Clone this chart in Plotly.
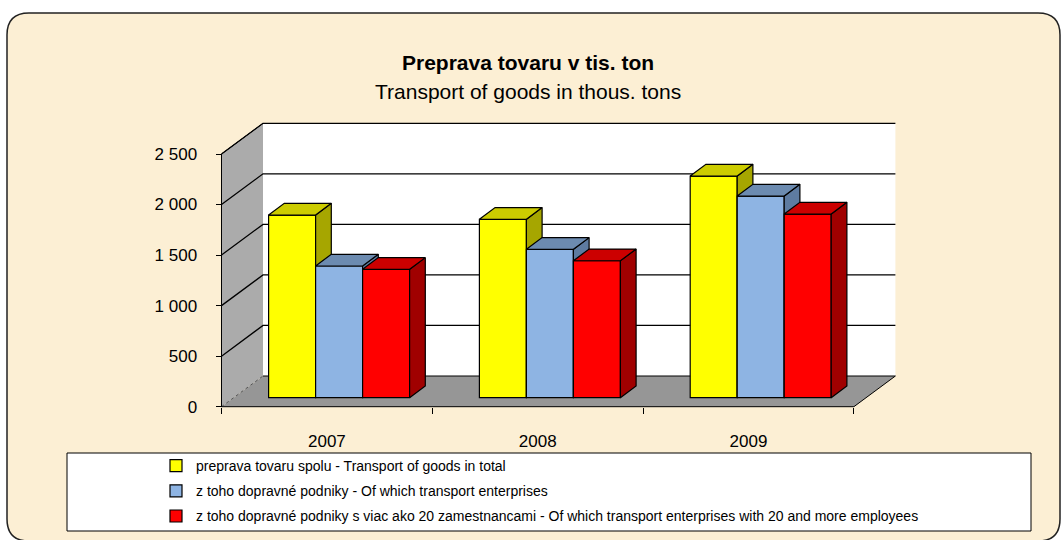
import plotly.graph_objects as go

# ---------------- data ----------------
years = ["2007", "2008", "2009"]
series_names = [
    "preprava tovaru spolu - Transport of goods in total",
    "z toho dopravné podniky - Of which transport enterprises",
    "z toho dopravné podniky s viac ako 20 zamestnancami - Of which transport enterprises with 20 and more employees",
]
total_goods = [1807, 1765, 2193]
transport_enterprises = [1303, 1468, 1995]
enterprises_20_plus = [1270, 1355, 1817]
y_tickvals = [0, 500, 1000, 1500, 2000, 2500]
y_ticktext = ["0", "500", "1 000", "1 500", "2 000", "2 500"]

series_values = [total_goods, transport_enterprises, enterprises_20_plus]
front_colors = ["#FFFF00", "#8EB4E3", "#FF0000"]
top_colors = ["#CCCC00", "#6C8BB0", "#CC0000"]
side_colors = ["#A6A600", "#5E7BA0", "#A00000"]

# ---------------- geometry (pixels) ----------------
W, H = 1061, 540
FX0, FY0 = 221.5, 406.7        # front-left corner of floor
SLOT = 210.8                    # px per category on front plane
VPX = 252.7 / 2500              # px per value unit
WALL_DX, WALL_DY = 41.5, 30.7   # depth of the floor / walls
BAR_DX, BAR_DY = 12.2, 9.0      # shift of bar front plane
BD_X, BD_Y = 15.7, 11.7         # depth of each bar
GROUP_FRAC = 141.0 / SLOT       # group width as fraction of slot
XL, XR = 195, 925               # axes domain (px)
YB, YT = 425, 100

FONT = "Liberation Sans, Arial, sans-serif"


def px_x(p):
    return p / W


def px_y(p):
    return 1 - p / H


x_range_base = [(XL - FX0) / SLOT - 0.5, (XR - FX0) / SLOT - 0.5]
y_range_base = [(FY0 - YB) / VPX, (FY0 - YT) / VPX]
x_range_bar = [(XL - FX0 - BAR_DX) / SLOT - 0.5, (XR - FX0 - BAR_DX) / SLOT - 0.5]
y_range_bar = [(FY0 - BAR_DY - YB) / VPX, (FY0 - BAR_DY - YT) / VPX]

wdu = WALL_DX / SLOT
wdv = WALL_DY / VPX
bdu = BD_X / SLOT
bdv = BD_Y / VPX
u0, u1 = -0.5, len(years) - 0.5
vtop = y_tickvals[-1]

fig = go.Figure()


def poly(xs, ys, fill, lcol="black", lw=1, xa="x", ya="y", dash="solid"):
    fig.add_trace(go.Scatter(
        x=xs, y=ys, mode="lines", fill="toself" if fill else None,
        fillcolor=fill, line=dict(color=lcol, width=lw, dash=dash),
        xaxis=xa, yaxis=ya, hoverinfo="skip", showlegend=False))


# left wall
poly([u0, u0 + wdu, u0 + wdu, u0, u0], [0, wdv, vtop + wdv, vtop, 0], "#ABABAB", "rgba(0,0,0,0)", 0)
# back wall
poly([u0 + wdu, u1 + wdu, u1 + wdu, u0 + wdu, u0 + wdu], [wdv, wdv, vtop + wdv, vtop + wdv, wdv], "#FFFFFF", "rgba(0,0,0,0)", 0)
# floor
poly([u0, u0 + wdu, u1 + wdu, u1, u0], [0, wdv, wdv, 0, 0], "#969696", "rgba(0,0,0,0)", 0)

# gridlines across left wall and back wall
gx, gy = [], []
for t in y_tickvals[1:]:
    gx += [u0, u0 + wdu, u1 + wdu, None]
    gy += [t, t + wdv, t + wdv, None]
poly(gx, gy, None, "#000000", 1.3)
# floor back edge
poly([u0 + wdu, u1 + wdu], [wdv, wdv], None, "#000000", 1)
# floor left edge (dashed)
poly([u0, u0 + wdu], [0, wdv], None, "#555555", 1, dash="dot")
# front edges
poly([u0, u0, u0 + wdu], [0, vtop, vtop + wdv], None, "#000000", 1)
poly([u0, u1, u1 + wdu], [0, 0, wdv], None, "#000000", 1)

# ---------------- bars ----------------
n = len(series_values)
bw = GROUP_FRAC / n
for i, (vals, name) in enumerate(zip(series_values, series_names)):
    xa = "x%d" % (i + 2)
    ya = "y%d" % (i + 2)
    off = -GROUP_FRAC / 2 + i * bw
    fig.add_trace(go.Bar(
        x=list(range(len(years))), y=vals, width=bw, offset=off,
        marker=dict(color=front_colors[i], line=dict(color="black", width=1.2)),
        name=name, legendgroup="g%d" % i, xaxis=xa, yaxis=ya,
        hovertemplate="%{y}<extra></extra>"))
    sx, sy, tx, ty = [], [], [], []
    for k, v in enumerate(vals):
        xl = k + off
        xr = xl + bw
        sx += [xr, xr + bdu, xr + bdu, xr, xr, None]
        sy += [0, bdv, v + bdv, v, 0, None]
        tx += [xl, xl + bdu, xr + bdu, xr, xl, None]
        ty += [v, v + bdv, v + bdv, v, v, None]
    poly(sx, sy, side_colors[i], "black", 1.2, xa, ya)
    poly(tx, ty, top_colors[i], "black", 1.2, xa, ya)

# ---------------- layout ----------------
dom_x = [px_x(XL), px_x(XR)]
dom_y = [px_y(YB), px_y(YT)]
hidden = dict(showgrid=False, zeroline=False, showline=False, showticklabels=False,
              ticks="", fixedrange=True, visible=False)

layout = dict(
    width=W, height=H,
    margin=dict(l=0, r=0, t=0, b=0),
    paper_bgcolor="white",
    plot_bgcolor="rgba(0,0,0,0)",
    font=dict(family=FONT, color="black"),
    barmode="overlay",
    showlegend=True,
    xaxis=dict(domain=dom_x, range=x_range_base, tickmode="array",
               tickvals=list(range(len(years))), ticktext=years, ticks="",
               showgrid=False, zeroline=False, showline=False,
               anchor="free", position=px_y(FY0), ticklabelstandoff=22,
               tickfont=dict(size=17, family=FONT),
               minor=dict(tickmode="array",
                          tickvals=[k - 0.5 for k in range(len(years) + 1)],
                          ticks="outside", ticklen=6, tickcolor="black", tickwidth=1,
                          showgrid=False),
               fixedrange=True),
    yaxis=dict(domain=dom_y, range=y_range_base, tickmode="array",
               tickvals=y_tickvals, ticktext=y_ticktext, ticks="outside",
               ticklen=6, tickcolor="black", showgrid=False, zeroline=False,
               showline=False, anchor="free", position=px_x(FX0),
               ticklabelstandoff=15, tickfont=dict(size=17, family=FONT),
               fixedrange=True),
    legend=dict(x=px_x(156), y=px_y(450), xanchor="left", yanchor="top",
                bgcolor="rgba(0,0,0,0)", borderwidth=0, tracegroupgap=4,
                font=dict(size=14, family=FONT), traceorder="grouped"),
    shapes=[],
    annotations=[
        dict(text="<b>Preprava tovaru v tis. ton</b>", x=px_x(528), y=px_y(62),
             xref="paper", yref="paper", showarrow=False, yanchor="middle",
             xanchor="center", font=dict(size=21, family=FONT)),
        dict(text="Transport of goods in thous. tons", x=px_x(528), y=px_y(91),
             xref="paper", yref="paper", showarrow=False, yanchor="middle",
             xanchor="center", font=dict(size=21, family=FONT)),
    ],
)
for i in range(n):
    layout["xaxis%d" % (i + 2)] = dict(hidden, range=x_range_bar, overlaying="x", anchor="y%d" % (i + 2))
    layout["yaxis%d" % (i + 2)] = dict(hidden, range=y_range_bar, overlaying="y", anchor="x%d" % (i + 2))

# rounded outer frame (paper coords)
L, T, R, B, r = 7, 13, 1060, 541, 22
path = (f"M {px_x(L)},{px_y(T + r)} Q {px_x(L)},{px_y(T)} {px_x(L + r)},{px_y(T)} "
        f"L {px_x(R - r)},{px_y(T)} Q {px_x(R)},{px_y(T)} {px_x(R)},{px_y(T + r)} "
        f"L {px_x(R)},{px_y(B - r)} Q {px_x(R)},{px_y(B)} {px_x(R - r)},{px_y(B)} "
        f"L {px_x(L + r)},{px_y(B)} Q {px_x(L)},{px_y(B)} {px_x(L)},{px_y(B - r)} Z")
layout["shapes"].append(dict(type="path", path=path, xref="paper", yref="paper",
                             fillcolor="#FCEFD4", line=dict(color="#222222", width=1.5),
                             layer="below"))
# legend frame
layout["shapes"].append(dict(type="rect", xref="paper", yref="paper",
                             x0=px_x(67), x1=px_x(1031), y0=px_y(531), y1=px_y(453),
                             fillcolor="white", line=dict(color="black", width=1),
                             layer="below"))

fig.update_layout(**layout)
fig.write_html("out.html", config={"displayModeBar": False},
               post_script="document.body.style.margin='0px';document.body.style.overflow='hidden';")
